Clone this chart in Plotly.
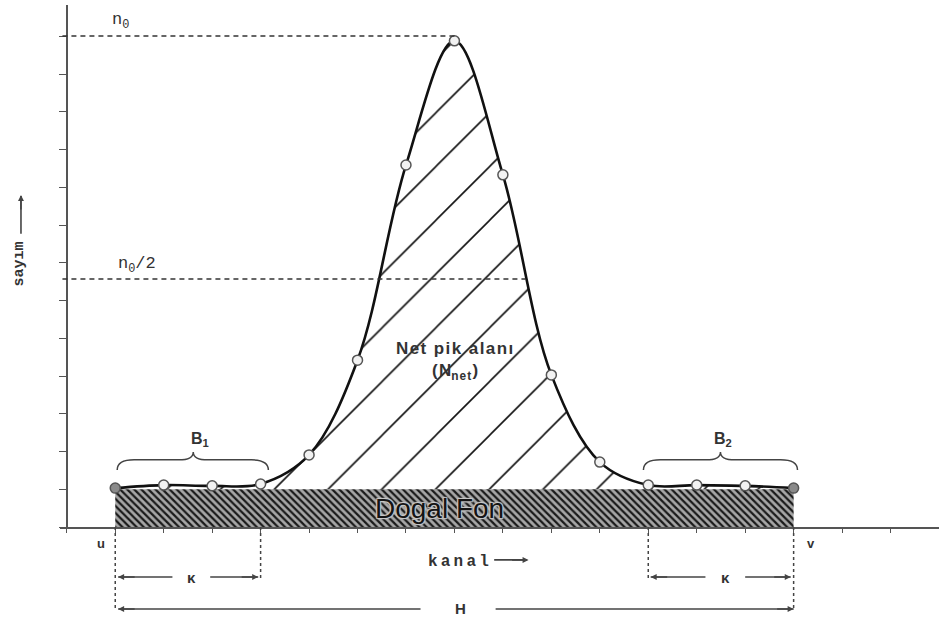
import plotly.graph_objects as go

# ---- data (channel, counts in tick units) ----
channels = [0, 1, 2, 3, 4, 5, 6, 7, 8, 9, 10, 11, 12, 13, 14]
counts = [1.03, 1.11, 1.09, 1.14, 1.91, 4.42, 9.59, 12.88, 9.33, 4.03, 1.72, 1.11, 1.11, 1.09, 1.03]
background_level = 1.0
bg_x = [0, 14]
n0_level = 13.01
half_level = 6.57
marker_fill = ["#8a8a8a"] + ["#f2f2f2"] * 13 + ["#8a8a8a"]

XR = [-1.14, 17.0]
YR = [0, 13.83]

fig = go.Figure()

# background (Dogal Fon) hatched rectangle
fig.add_trace(go.Scatter(
    x=bg_x, y=[background_level, background_level], mode="lines",
    line=dict(width=0, color="#222"), fill="tozeroy",
    fillcolor="#8a8a8a",
    fillpattern=dict(shape="\\", size=5, solidity=0.45, fgcolor="#1a1a1a", bgcolor="#a6a6a6", fgopacity=1),
    hoverinfo="skip", showlegend=False))

# baseline for net peak fill
fig.add_trace(go.Scatter(
    x=channels, y=[background_level] * len(channels), mode="lines",
    line=dict(width=0, color="rgba(0,0,0,0)"), hoverinfo="skip", showlegend=False))

# peak curve with net area hatching
fig.add_trace(go.Scatter(
    x=channels, y=counts, mode="lines",
    line=dict(color="#111", width=2.6, shape="spline", smoothing=1.0),
    fill="tonexty", fillcolor="rgba(255,255,255,0)",
    fillpattern=dict(shape="/", size=38, solidity=0.042, fgcolor="#111", fgopacity=1,
                     bgcolor="rgba(255,255,255,0)"),
    hoverinfo="skip", showlegend=False))

# markers
fig.add_trace(go.Scatter(
    x=channels, y=counts, mode="markers",
    marker=dict(symbol="circle", size=10, color=marker_fill, line=dict(color="#555", width=1.5)),
    hoverinfo="skip", showlegend=False))

shapes = []
# n0 and n0/2 dashed lines
shapes.append(dict(type="line", xref="x", yref="y", x0=-1.09, x1=7.02, y0=n0_level, y1=n0_level,
                   line=dict(color="#333", width=1.5, dash="5px,4px")))
shapes.append(dict(type="line", xref="x", yref="y", x0=-1.09, x1=8.47, y0=half_level, y1=half_level,
                   line=dict(color="#333", width=1.5, dash="5px,4px")))


def brace(xa, xb, xt, ye, ym, yt):
    return ("M{a},{ye} Q{a},{ym} {a2},{ym} L{t1},{ym} Q{t},{ym} {t},{yt} "
            "Q{t},{ym} {t2},{ym} L{b2},{ym} Q{b},{ym} {b},{ye}").format(
        a=xa, a2=xa + 0.35, t1=xt - 0.3, t=xt, t2=xt + 0.3, b2=xb - 0.35, b=xb,
        ye=ye, ym=ym, yt=yt)


shapes.append(dict(type="path", xref="x", yref="y", path=brace(0.04, 3.16, 1.61, 1.51, 1.78, 1.99),
                   line=dict(color="#444", width=1.5)))
shapes.append(dict(type="path", xref="x", yref="y", path=brace(10.9, 14.08, 12.49, 1.51, 1.78, 1.99),
                   line=dict(color="#444", width=1.5)))

# dotted verticals below axis (paper y)
for xv, yb in [(0, -0.159), (3, -0.1015), (11, -0.1015), (14, -0.159)]:
    shapes.append(dict(type="line", xref="x", yref="paper", x0=xv, x1=xv, y0=0, y1=yb,
                       line=dict(color="#444", width=1.5, dash="dot")))

# kappa lines and H lines
yk = -0.0958
yh = -0.157
yc = -0.067
for x0, x1 in [(0.06, 1.18), (1.96, 2.95), (11.05, 12.18), (13.0, 13.94)]:
    shapes.append(dict(type="line", xref="x", yref="paper", x0=x0, x1=x1, y0=yk, y1=yk,
                       line=dict(color="#444", width=1.6)))
for x0, x1 in [(0.06, 6.3), (7.85, 14.0)]:
    shapes.append(dict(type="line", xref="x", yref="paper", x0=x0, x1=x1, y0=yh, y1=yh,
                       line=dict(color="#444", width=1.6)))
# kanal arrow shaft
shapes.append(dict(type="line", xref="x", yref="paper", x0=7.82, x1=8.5, y0=yc + 0.004, y1=yc + 0.004,
                   line=dict(color="#444", width=1.6)))
# sayim arrow shaft
shapes.append(dict(type="line", xref="paper", yref="paper", x0=-0.0444, x1=-0.0444, y0=0.562, y1=0.634,
                   line=dict(color="#444", width=1.6)))

annotations = []
mono = "Liberation Mono, DejaVu Sans Mono, monospace"
sans = "Liberation Sans, Arial, sans-serif"
TS = "\u2009"
HS = "\u200a"


def spaced(s, sep):
    return sep.join(s)


def ann(**kw):
    kw.setdefault("showarrow", False)
    kw.setdefault("xanchor", "center")
    kw.setdefault("yanchor", "middle")
    annotations.append(kw)


ann(x=0.1, y=n0_level + 0.05, xref="x", yref="y", text="n<sub>0</sub>",
    yanchor="bottom", font=dict(family=mono, size=17, color="#333"))
ann(x=0.45, y=half_level + 0.03, xref="x", yref="y", text="n<sub>0</sub>/2",
    yanchor="bottom", font=dict(family=mono, size=17, color="#333"))
ann(x=7.01, y=4.74, xref="x", yref="y", text="<b>" + spaced("Net pik alanı", HS) + "</b>",
    font=dict(family=sans, size=17, color="#333"))
ann(x=7.02, y=4.1, xref="x", yref="y",
    text="<b>(" + HS + "N<sub>" + spaced("net", HS) + "</sub>" + HS + ")</b>",
    font=dict(family=sans, size=17, color="#333"))
ann(x=6.69, y=0.48, xref="x", yref="y", text="Dogal Fon",
    font=dict(family=sans, size=28, color="#141414",
              shadow="1px 1px 1px #c8c8c8, -1px -1px 1px #c8c8c8, 1px -1px 1px #c8c8c8, -1px 1px 1px #c8c8c8"))
ann(x=1.75, y=2.32, xref="x", yref="y", text="<b>B<sub>1</sub></b>",
    font=dict(family=sans, size=16, color="#333"))
ann(x=12.55, y=2.32, xref="x", yref="y", text="<b>B<sub>2</sub></b>",
    font=dict(family=sans, size=16, color="#333"))
ann(x=-0.29, y=-0.031, xref="x", yref="paper", text="<b>u</b>",
    font=dict(family=sans, size=13, color="#333"))
ann(x=14.35, y=-0.031, xref="x", yref="paper", text="<b>v</b>",
    font=dict(family=sans, size=13, color="#333"))
ann(x=7.08, y=yc, xref="x", yref="paper", text="<b>" + spaced("kanal", TS) + "</b>",
    font=dict(family=mono, size=16, color="#333"))
ann(x=1.57, y=yk, xref="x", yref="paper", text="<b>κ</b>",
    font=dict(family=sans, size=15, color="#333"))
ann(x=12.6, y=yk, xref="x", yref="paper", text="<b>κ</b>",
    font=dict(family=sans, size=15, color="#333"))
ann(x=7.12, y=yh, xref="x", yref="paper", text="<b>H</b>",
    font=dict(family=sans, size=15, color="#333"))
ann(x=-0.046, y=0.504, xref="paper", yref="paper", text="<b>sayım</b>",
    textangle=-90, font=dict(family=mono, size=15, color="#333"))

# arrow heads
arrow_style = dict(text="", showarrow=True, arrowhead=2, arrowsize=0.8, arrowwidth=1.5, arrowcolor="#444")
for xh, dx, yy in [(0.06, 18, yk), (2.95, -18, yk), (11.05, 18, yk), (13.94, -18, yk),
                   (0.06, 18, yh), (14.0, -18, yh), (8.53, -18, yc + 0.004)]:
    annotations.append(dict(x=xh, y=yy, xref="x", yref="paper", ax=dx, ay=0, **arrow_style))
annotations.append(dict(x=-0.0444, y=0.636, xref="paper", yref="paper", ax=0, ay=16, **arrow_style))

fig.update_layout(
    width=939, height=623,
    margin=dict(l=60, r=0, t=5, b=96),
    paper_bgcolor="white", plot_bgcolor="white",
    shapes=shapes, annotations=annotations,
    xaxis=dict(range=XR, showgrid=False, zeroline=False, showline=True, linecolor="#555", linewidth=1.5,
               ticks="outside", ticklen=4, tickcolor="#555", tickwidth=1.2, tick0=0, dtick=1,
               showticklabels=False, automargin=False),
    yaxis=dict(range=YR, showgrid=False, zeroline=False, showline=True, linecolor="#555", linewidth=1.5,
               anchor="free", position=0.0077,
               ticks="outside", ticklen=7, tickcolor="#555", tickwidth=1.2, tick0=0, dtick=1,
               showticklabels=False, automargin=False),
)

fig.write_html("out.html", config={"displayModeBar": False},
               post_script="document.body.style.margin='0px';")
